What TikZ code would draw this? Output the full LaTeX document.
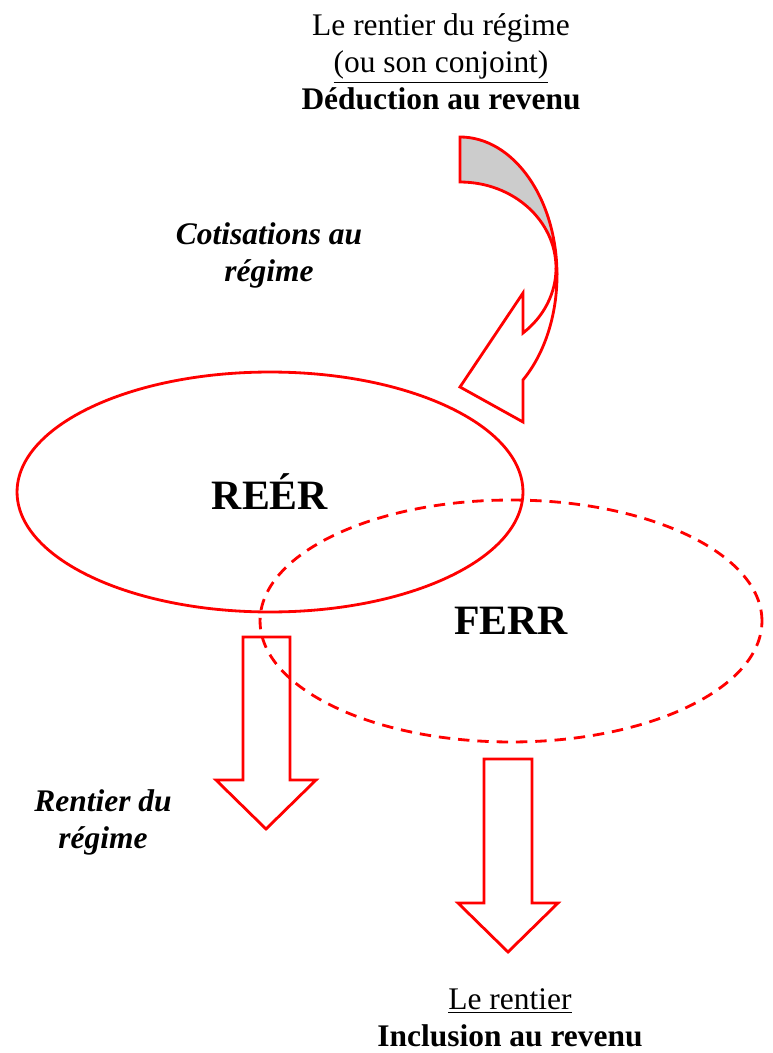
\documentclass[tikz,border=0pt]{standalone}
\usepackage{fontspec}
\setmainfont{Liberation Serif}
\usepackage{tikz}
\usetikzlibrary{shapes.geometric}

\begin{document}
\begin{tikzpicture}[x=0.02cm, y=-0.02cm, line width=1.6pt,
    texte/.style={font=\fontsize{17.9}{21}\selectfont, align=center, inner sep=0pt},
    etiquette/.style={texte, font=\fontsize{17.9}{21}\selectfont\bfseries\itshape},
    bulle/.style={draw=red, ellipse, inner sep=0pt, font=\fontsize{23.8}{28}\selectfont\bfseries}]
    \useasboundingbox (0,0) rectangle (772,1053);
    % the two plans
    \node[bulle, minimum width=10.12cm, minimum height=4.8cm] (reer) at (270,492) {REÉR};
    \node[bulle, dash pattern=on 6.5pt off 4.5pt, minimum width=10.04cm, minimum height=4.84cm] (ferr) at (511,621) {FERR};
    % texts
    \node[texte] (deduction) at (441,62) {Le rentier du régime\\\underline{(ou son conjoint)}\\\textbf{Déduction au revenu}};
    \node[etiquette] (cotisations) at (269,255) {Cotisations au\\régime};
    \node[etiquette] (rentier) at (103,822) {Rentier du\\régime};
    \node[texte] (inclusion) at (510,1018) {\underline{Le rentier}\\\textbf{Inclusion au revenu}};
    % curved arrow into the REER
    \draw[red, fill=black!20] (460,137) arc[start angle=90, end angle=0, x radius=1.94cm, y radius=2.76cm]
        -- (556,268) arc[start angle=0, end angle=90, x radius=1.92cm, y radius=1.72cm] -- cycle;
    \draw[red, fill=white] (557,275) arc[start angle=0, end angle=-49.5, x radius=1.94cm, y radius=2.76cm]
        -- (523,422) -- (460,387) -- (523,293) -- (523,333)
        arc[start angle=-49, end angle=0, x radius=1.92cm, y radius=1.72cm] -- cycle;
    % block arrows out
    \draw[red] (243,637) -- (290,637) -- (290,780) -- (316,780) -- (266,829) -- (216,780) -- (243,780) -- cycle;
    \draw[red] (484,759) -- (532,759) -- (532,903) -- (558,903) -- (508,952) -- (458,903) -- (484,903) -- cycle;
\end{tikzpicture}
\end{document}
